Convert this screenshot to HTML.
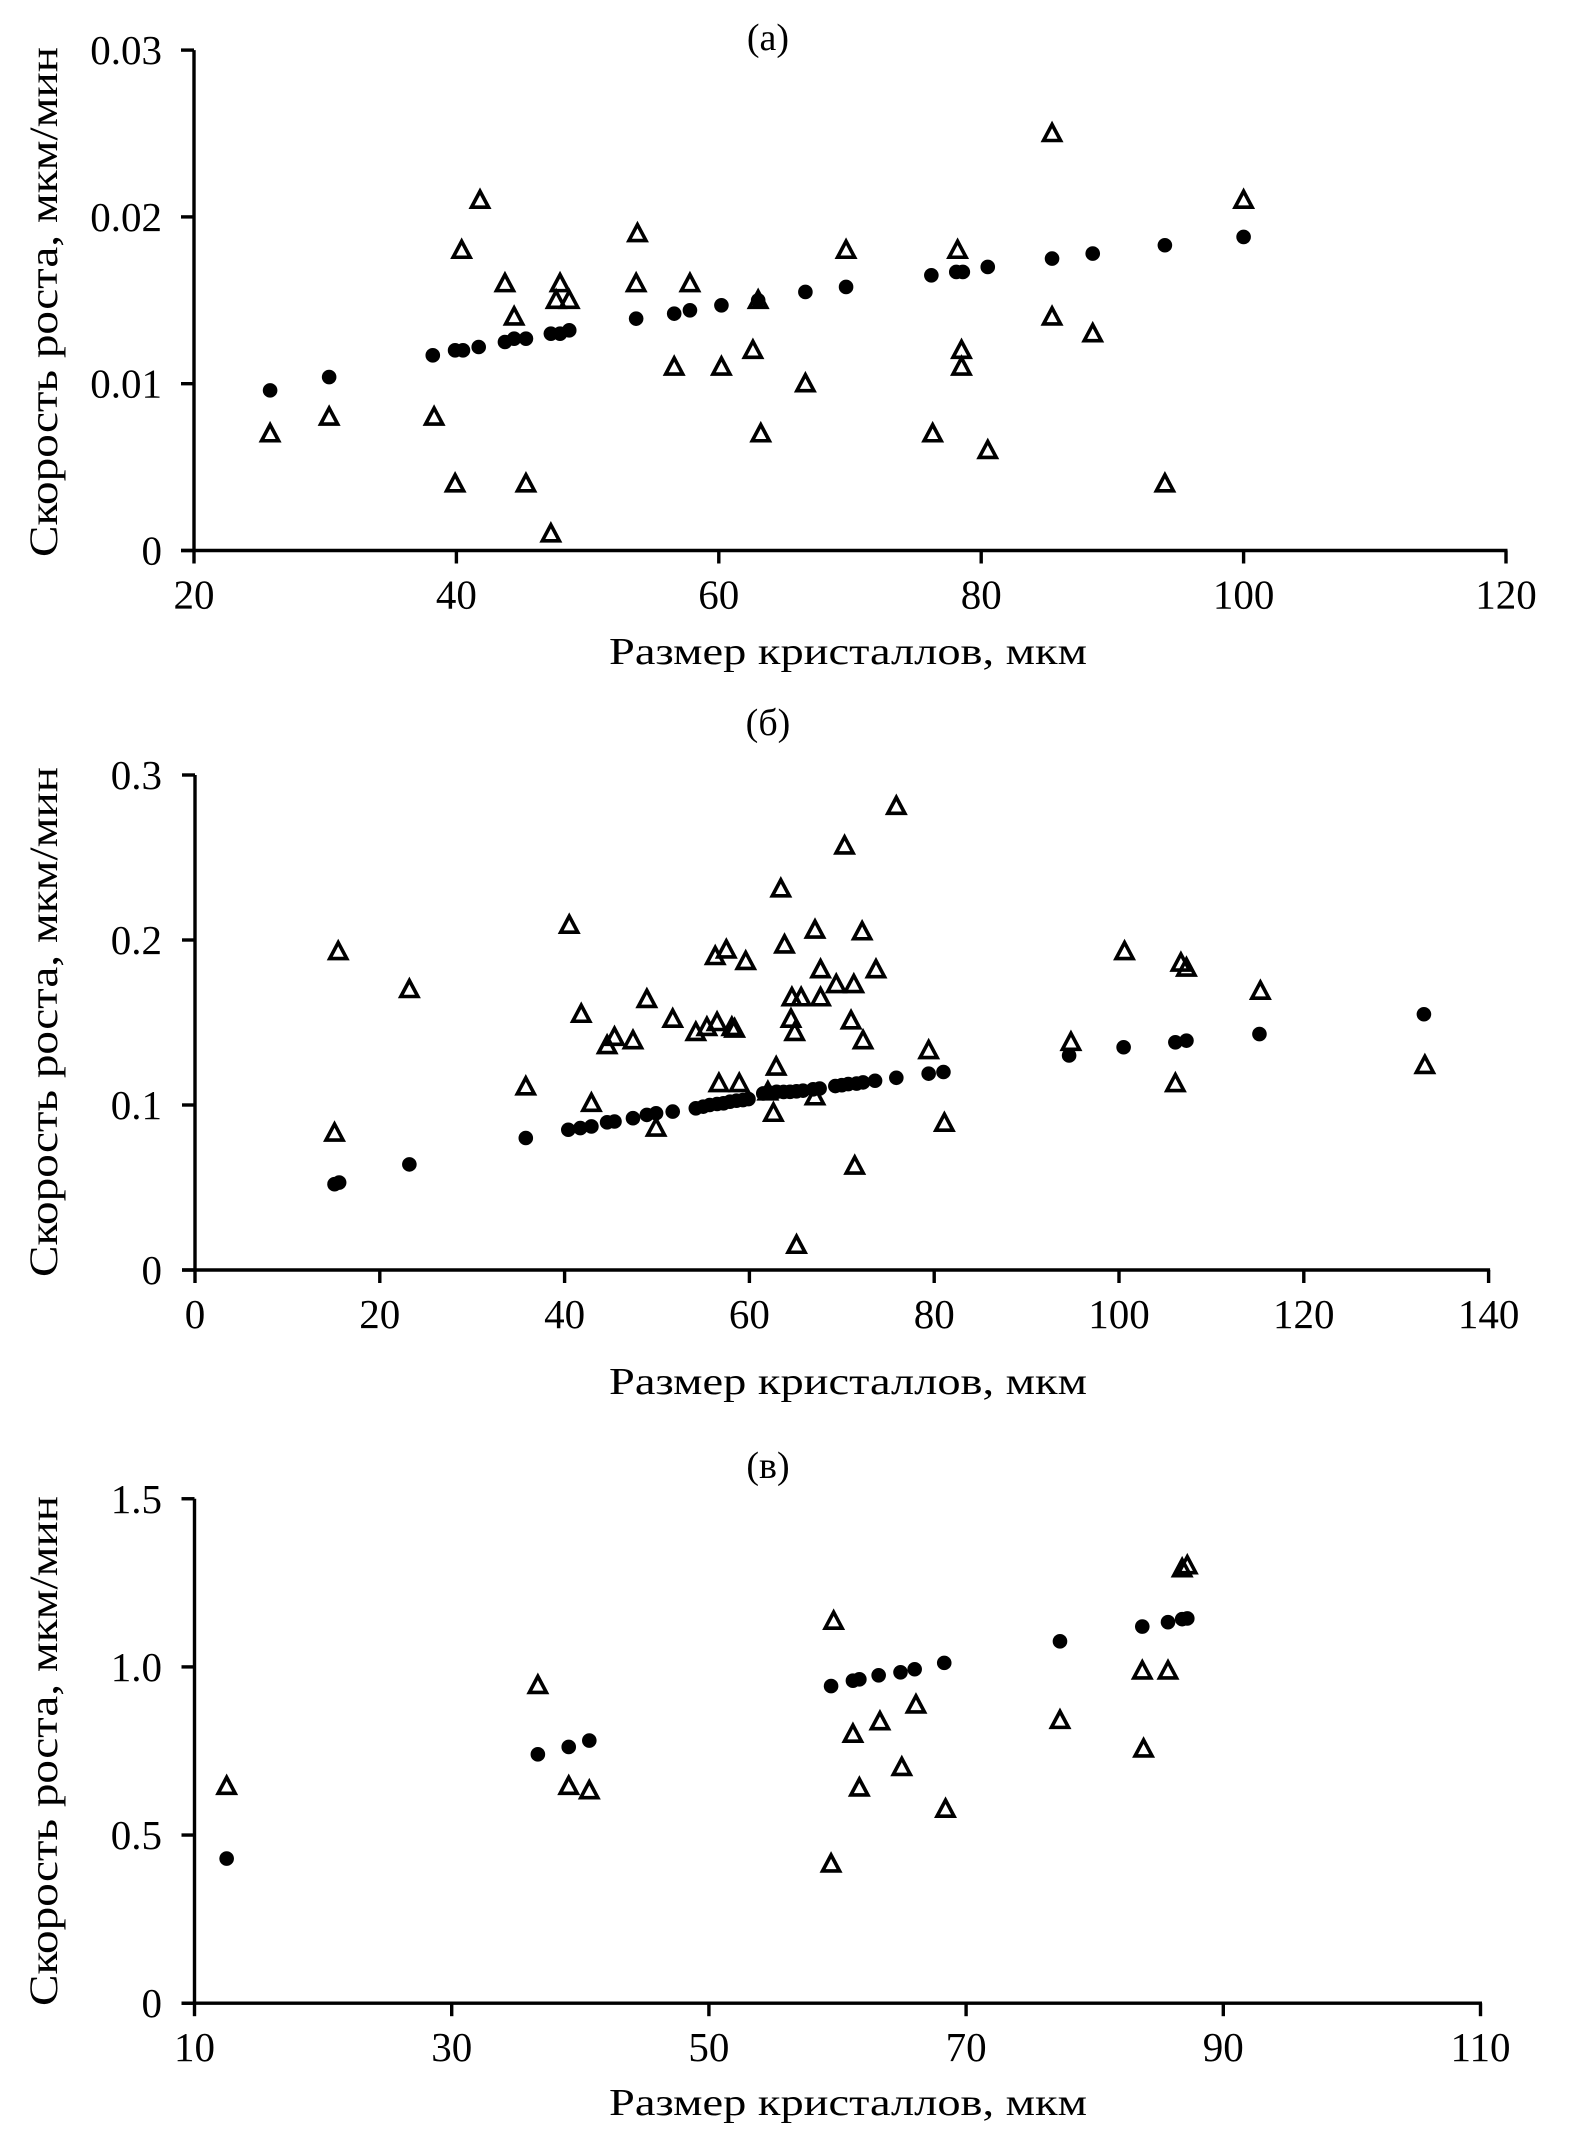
<!DOCTYPE html>
<html><head><meta charset="utf-8"><style>
html,body{margin:0;padding:0;background:#fff}
svg{display:block;font-family:"Liberation Serif","DejaVu Serif",serif}
</style></head><body>
<svg id="fig" xmlns="http://www.w3.org/2000/svg" width="1571" height="2155" viewBox="0 0 1571 2155"></svg>
<script>
// Panel (a)
const aCircX=[25.8,30.3,38.2,39.9,40.5,41.7,43.7,44.4,45.3,47.2,47.9,48.6,53.7,56.6,57.8,60.2,63.0,66.6,69.7,76.2,78.1,78.6,80.5,85.4,88.5,94.0,100.0];
const aCircY=[0.0096,0.0104,0.0117,0.0120,0.0120,0.0122,0.0125,0.0127,0.0127,0.0130,0.0130,0.0132,0.0139,0.0142,0.0144,0.0147,0.0150,0.0155,0.0158,0.0165,0.0167,0.0167,0.0170,0.0175,0.0178,0.0183,0.0188];
const aTriX=[25.8,30.3,38.3,39.9,40.4,41.8,43.7,44.4,45.3,47.2,47.9,47.6,48.6,53.8,53.7,57.8,56.6,60.2,62.6,63.0,63.2,66.6,69.7,76.3,78.2,78.5,78.5,80.5,85.4,85.4,88.5,94.0,100.0];
const aTriY=[0.007,0.008,0.008,0.004,0.018,0.021,0.016,0.014,0.004,0.001,0.016,0.015,0.015,0.019,0.016,0.016,0.011,0.011,0.012,0.015,0.007,0.010,0.018,0.007,0.018,0.012,0.011,0.006,0.025,0.014,0.013,0.004,0.021];
const aXTicks=[20,40,60,80,100,120];
const aYTicks=[0,0.01,0.02,0.03];
const aYLabels=["0","0.01","0.02","0.03"];
// Panel (b)
const bCircX=[15.1,15.6,23.2,35.8,40.4,41.7,42.9,44.6,45.4,47.4,48.9,49.9,51.7,54.2,55.0,55.7,56.5,57.2,57.9,58.6,59.3,59.9,61.5,62.2,62.95,63.7,64.4,65.1,65.8,66.9,67.6,69.3,70.0,70.7,71.6,72.3,73.6,75.9,79.4,81.0,94.6,100.5,106.1,107.3,115.2,133.0];
const bCircY=[0.052,0.053,0.064,0.080,0.085,0.086,0.087,0.0895,0.090,0.092,0.094,0.095,0.096,0.098,0.099,0.100,0.1006,0.101,0.102,0.1026,0.103,0.1036,0.107,0.1075,0.108,0.1079,0.108,0.1083,0.1087,0.1095,0.110,0.1115,0.112,0.1127,0.113,0.1137,0.1147,0.1165,0.119,0.120,0.130,0.135,0.138,0.139,0.143,0.155];
const bTriX=[15.1,15.5,23.2,35.8,40.5,41.8,42.9,44.6,45.4,47.4,48.9,49.9,51.7,54.2,55.4,56.3,56.5,57.5,58.1,58.4,59.6,56.7,58.9,62.0,62.6,62.9,63.4,63.8,64.6,64.5,64.9,65.6,65.1,67.1,67.1,67.7,67.7,69.4,70.3,71.0,71.3,72.2,72.3,73.7,71.4,75.9,79.4,81.1,94.8,100.6,106.7,107.3,106.1,115.3,133.1];
const bTriY=[0.083,0.193,0.170,0.111,0.209,0.155,0.101,0.136,0.141,0.139,0.164,0.086,0.152,0.144,0.147,0.190,0.150,0.194,0.147,0.146,0.187,0.113,0.113,0.108,0.095,0.123,0.231,0.197,0.165,0.152,0.144,0.165,0.015,0.206,0.105,0.182,0.165,0.173,0.257,0.151,0.173,0.205,0.139,0.182,0.063,0.281,0.133,0.089,0.138,0.193,0.186,0.183,0.113,0.169,0.124];
const bXTicks=[0,20,40,60,80,100,120,140];
const bYTicks=[0,0.1,0.2,0.3];
const bYLabels=["0","0.1","0.2","0.3"];
// Panel (c)
const cCircX=[12.5,36.7,39.1,40.7,59.5,61.2,61.7,63.2,64.9,66.0,68.3,77.3,83.7,85.7,86.8,87.2];
const cCircY=[0.430,0.740,0.762,0.781,0.943,0.959,0.963,0.975,0.984,0.993,1.012,1.076,1.120,1.133,1.142,1.144];
const cTriX=[12.5,36.7,39.1,40.7,59.7,59.5,61.2,61.7,63.3,65.0,66.1,68.4,77.3,83.7,83.8,85.7,86.8,87.2];
const cTriY=[0.645,0.945,0.645,0.632,1.136,0.414,0.800,0.640,0.837,0.701,0.887,0.577,0.841,0.988,0.756,0.988,1.292,1.301];
const cXTicks=[10,30,50,70,90,110];
const cYTicks=[0,0.5,1.0,1.5];
const cYLabels=["0","0.5","1.0","1.5"];

const NS="http://www.w3.org/2000/svg";
const svg=document.getElementById('fig');
function mk(tag,attrs,parent){const e=document.createElementNS(NS,tag);for(const k in attrs)e.setAttribute(k,attrs[k]);(parent||svg).appendChild(e);return e;}

const panels=[
 {key:'a',title:'(а)',titleY:50,x0:194,xs:13.12,xmin:20,xmax:120,y0:550.5,ys:16680,ymax:0.03,
  xT:aXTicks,yT:aYTicks,yL:aYLabels,cx:aCircX,cy:aCircY,tx:aTriX,ty:aTriY,xlabY:664,ytitleC:302},
 {key:'b',title:'(б)',titleY:735,x0:195,xs:9.24,xmin:0,xmax:140,y0:1270,ys:1650,ymax:0.3,
  xT:bXTicks,yT:bYTicks,yL:bYLabels,cx:bCircX,cy:bCircY,tx:bTriX,ty:bTriY,xlabY:1394,ytitleC:1022},
 {key:'c',title:'(в)',titleY:1478,x0:194.5,xs:12.86,xmin:10,xmax:110,y0:2003.2,ys:336.3,ymax:1.5,
  xT:cXTicks,yT:cYTicks,yL:cYLabels,cx:cCircX,cy:cCircY,tx:cTriX,ty:cTriY,xlabY:2115,ytitleC:1751}
];

panels.forEach(p=>{
  const g=mk('g',{});
  
  
  const X=v=>p.x0+(v-p.xmin)*p.xs;
  const Y=v=>p.y0-v*p.ys;
  const t=mk('text',{x:768,y:p.titleY,'font-size':38,'text-anchor':'middle'},g);
  t.textContent=p.title;
  
  
  const ya=mk('line',{x1:X(p.xmin),y1:Y(p.ymax),x2:X(p.xmin),y2:p.y0+1.5,stroke:'#000','stroke-width':3.4},g);
  
  
  const xa=mk('line',{x1:X(p.xmin)-13,y1:p.y0,x2:X(p.xmax)+1.5,y2:p.y0,stroke:'#000','stroke-width':3.4},g);
  
  
  p.yT.forEach((v,i)=>{
    const l=mk('line',{x1:X(p.xmin)-13,y1:Y(v),x2:X(p.xmin),y2:Y(v),stroke:'#000','stroke-width':3.4},g);
    
    
    const tl=mk('text',{x:162,y:Y(v)+14,'font-size':41,'text-anchor':'end'},g);
    tl.textContent=p.yL[i];
    
    
  });
  p.xT.forEach(v=>{
    const l=mk('line',{x1:X(v),y1:p.y0,x2:X(v),y2:p.y0+13,stroke:'#000','stroke-width':3.4},g);
    
    
    const tl=mk('text',{x:X(v),y:p.y0+58,'font-size':41,'text-anchor':'middle'},g);
    tl.textContent=String(v);
    
    
  });
  const xl=mk('text',{x:848,y:p.xlabY,'font-size':38,'text-anchor':'middle',textLength:478,lengthAdjust:'spacingAndGlyphs'},g);
  xl.textContent='Размер кристаллов, мкм';
  
  
  const yl=mk('text',{x:0,y:0,'font-size':40,'text-anchor':'middle',textLength:510,lengthAdjust:'spacingAndGlyphs',transform:'translate(57,'+p.ytitleC+') rotate(-90)'},g);
  yl.textContent='Скорость роста, мкм/мин';
  
  
  p.tx.forEach((v,i)=>{
    const cx=X(v),cy=Y(p.ty[i]);
    const tr=mk('path',{d:`M${cx},${cy-9} L${cx+8.5},${cy+7} L${cx-8.5},${cy+7} Z`,fill:'none',stroke:'#000','stroke-width':3.6,'stroke-linejoin':'miter'},g);
    
    
  });
  p.cx.forEach((v,i)=>{
    const c=mk('circle',{cx:X(v),cy:Y(p.cy[i]),r:7.3,fill:'#000'},g);
    
    
  });
});
</script>
</body></html>
